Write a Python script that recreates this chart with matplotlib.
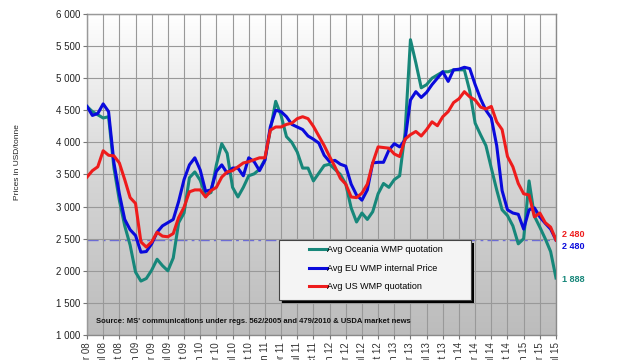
import matplotlib
matplotlib.use("Agg")
import matplotlib.pyplot as plt
from matplotlib.colors import LinearSegmentedColormap
from matplotlib.patches import Rectangle
import numpy as np
import pandas as pd

plt.rcParams["font.family"] = ["Liberation Sans", "DejaVu Sans"]

months = pd.date_range("2008-04-01", "2015-07-01", freq="MS")

oceania = [4560, 4480, 4430, 4380, 4400, 3600, 3100, 2700, 2400, 1980,
           1840, 1880, 2010, 2180, 2080, 2000, 2200, 2750, 2900, 3450,
           3540, 3410, 3180, 3220, 3650, 3980, 3830, 3300, 3150, 3300,
           3480, 3510, 3580, 3730, 4190, 4640, 4420, 4090, 4000, 3850,
           3600, 3600, 3400, 3520, 3640, 3660, 3580, 3500, 3350, 2980,
           2760, 2900, 2800, 2920, 3200, 3360, 3300, 3420, 3480, 4150,
           5600, 5240, 4850, 4900, 5000, 5050, 5100, 5100, 5130, 5130,
           5130, 4800, 4300, 4120, 3950, 3600, 3260, 2950, 2860, 2700,
           2420, 2500, 3400, 2850, 2680, 2500, 2300, 1888]

eu = [4560, 4420, 4450, 4600, 4480, 3680, 3200, 2800, 2640, 2550,
      2290, 2300, 2420, 2600, 2700, 2750, 2800, 3080, 3420, 3650,
      3760, 3570, 3240, 3260, 3550, 3650, 3520, 3600, 3600, 3480,
      3760, 3700, 3560, 3720, 4240, 4500, 4480, 4400, 4280, 4240,
      4200, 4100, 4050, 3990, 3800, 3700, 3720, 3660, 3630, 3350,
      3180, 3100, 3260, 3680, 3690, 3690, 3880, 3980, 3930, 4040,
      4660, 4790, 4700, 4780, 4900, 5000, 5100, 4950, 5130, 5140,
      5170, 5150, 4900, 4680, 4500, 4380, 3950, 3250, 2950, 2900,
      2880, 2650, 2950, 2980, 2840, 2740, 2650, 2480]

us = [3460, 3560, 3620, 3870, 3800, 3790, 3680, 3420, 3140, 3050,
      2450, 2370, 2450, 2600, 2540, 2530, 2580, 2830, 2990, 3230,
      3260, 3260, 3150, 3250, 3300, 3460, 3540, 3560, 3620, 3680,
      3700, 3730, 3760, 3760, 4190, 4240, 4240, 4280, 4300, 4370,
      4400, 4370, 4250, 4100, 3950, 3780, 3620, 3440, 3350, 3150,
      3140, 3210, 3350, 3680, 3930, 3920, 3910, 3820, 3780, 4050,
      4120, 4170, 4100, 4200, 4320, 4260, 4400, 4480, 4620, 4680,
      4790, 4710, 4660, 4550, 4520, 4560, 4320, 4200, 3780, 3620,
      3360, 3200, 3180, 2840, 2900, 2750, 2680, 2480]

ref_level = 2480
series_names = ["Avg Oceania WMP quotation", "Avg EU WMP internal Price",
                "Avg US WMP quotation"]
colors = ["#17877a", "#0a0adc", "#ee1c1c"]
end_labels = ["1 888", "2 480", "2 480"]

x = np.arange(len(months))

fig = plt.figure(figsize=(6.4, 3.6), dpi=100)
ax = fig.add_axes([87/640, 25/360, 469/640, 321/360])

# grey gradient behind the plot
grad = LinearSegmentedColormap.from_list("bg", ["#bcbcbc", "#d6d6d6", "#ffffff"])
ax.imshow(np.linspace(0, 1, 256)[:, None], extent=[0, 1, 0, 1], origin="lower",
          transform=ax.transAxes, cmap=grad, aspect="auto", zorder=0)

ax.set_xlim(0, len(months) - 1)
ax.set_ylim(1000, 6000)

ticks = x[::3]
ax.set_xticks(ticks)
ax.set_xticklabels(months[::3].strftime("%b %y"), rotation=90, fontsize=7, color="#333333")
ax.set_yticks(range(1000, 6001, 500))
ax.set_yticklabels([f"{v:,}".replace(",", " ") for v in range(1000, 6001, 500)],
                   fontsize=7, color="#222222")
ax.tick_params(length=3, width=0.8, color="#777777", pad=2)
ax.grid(True, color="#999999", linewidth=0.8, zorder=1)
ax.set_axisbelow(False)
for s in ax.spines.values():
    s.set_color("#8a8a8a")
    s.set_linewidth(1.0)

ax.axhline(ref_level, color="#6a6ad8", linestyle=(0, (8, 3, 2, 3)), linewidth=1.0, zorder=2)

for vals, c, name in zip([oceania, eu, us], colors, series_names):
    ax.plot(x, vals, color=c, linewidth=2.2, label=name, zorder=3,
            solid_joinstyle="round")

# end-of-series labels
offsets = [-1, -5, 4]
for vals, c, lab, off in zip([oceania, eu, us], colors, end_labels, offsets):
    ax.annotate(lab, xy=(x[-1], vals[-1]), xytext=(4, off), textcoords="offset points",
                color=c, fontsize=6.5, fontweight="bold", va="center", ha="left",
                annotation_clip=False)

# legend box with shadow
ax.add_patch(Rectangle((0.415, 0.100), 0.41, 0.187, transform=ax.transAxes,
                       facecolor="black", edgecolor="none", zorder=4))
ax.add_patch(Rectangle((0.409, 0.109), 0.41, 0.187, transform=ax.transAxes,
                       facecolor="#f4f4f4", edgecolor="#444444", linewidth=0.8, zorder=5))
leg = ax.legend(loc="upper left", bbox_to_anchor=(0.455, 0.305), frameon=False,
                fontsize=6.5, handlelength=2.0, handletextpad=0.1, labelspacing=1.05)
leg.set_zorder(6)

ax.text(0.02, 0.03, "Source: MS' communications under regs. 562/2005 and 479/2010 & USDA market news",
        transform=ax.transAxes, fontsize=5.5, fontweight="bold", color="#111111",
        va="bottom", ha="left", zorder=6)

fig.text(18/640, 0.55, "Prices in USD/tonne", rotation=90, fontsize=6,
         va="center", ha="center", color="#222222")

fig.savefig("out.png", dpi=100)
